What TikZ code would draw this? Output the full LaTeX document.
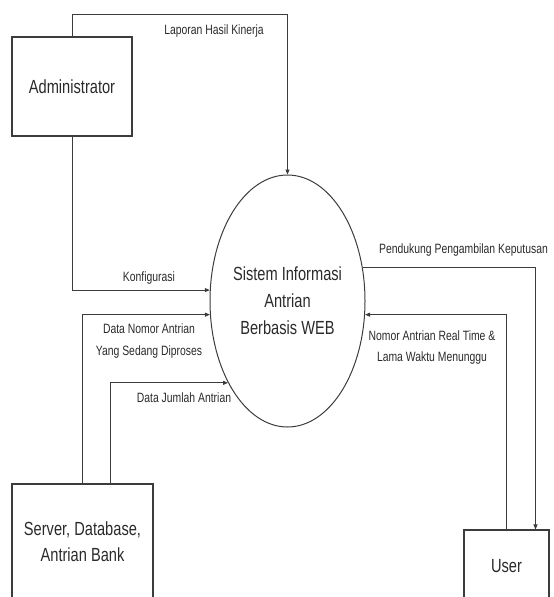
\documentclass[tikz,border=0pt]{standalone}
\usepackage{fontspec}
\setmainfont{Liberation Sans}[FakeStretch=0.77]
\usepackage{xcolor}
\usetikzlibrary{arrows.meta}
\usetikzlibrary{shapes.geometric}
\definecolor{garis}{HTML}{3C3C3C}
\definecolor{teks}{HTML}{2A2A2A}
\tikzstyle{entitas} = [draw=garis, line width=1.1pt, rectangle, inner sep=0pt,
text=teks, align=center, font=\fontsize{19}{26}\selectfont]
\tikzstyle{proses} = [draw=garis, line width=1pt, ellipse, inner sep=0pt,
text=teks, align=center, font=\fontsize{19}{27}\selectfont]
\tikzstyle{aliran} = [draw=garis, line width=0.9pt, -{Triangle[length=5pt,width=4pt]}]
\tikzstyle{ket} = [text=teks, align=center, inner sep=0pt, font=\fontsize{13.5}{21.5}\selectfont]

\begin{document}
\begin{tikzpicture}[x=1pt, y=-1pt]
        \path[use as bounding box] (0,0) rectangle (554,597);
        \clip (0,0) rectangle (554,597);
        % entitas dan proses
        \node[entitas, minimum width=120pt, minimum height=99pt] (admin) at (72,86.5) {Administrator};
        \node[entitas, minimum width=141pt, minimum height=116pt] (server) at (82.5,542) {Server, Database,\\Antrian Bank};
        \node[entitas, minimum width=85pt, minimum height=72pt] (user) at (506.5,566) {User};
        \node[proses, minimum width=155pt, minimum height=252pt] (sistem) at (287.5,301) {Sistem Informasi\\Antrian\\Berbasis WEB};
        \coordinate (server2) at ([xshift=28pt]server.north);
        \coordinate (user2) at ([xshift=29pt]user.north);
        % aliran data
        \draw[aliran] (admin.north) -- ++(0,-22) -| (sistem.north);
        \draw[aliran] (admin.south) |- (sistem.172);
        \draw[aliran] (server.north) |- (sistem.190);
        \draw[aliran] (server2) |- (sistem.234);
        \draw[aliran] (sistem.24) -| (user2);
        \draw[aliran] (user.north) |- (sistem.-10);
        % keterangan
        \node[ket] (lLaporan) at (214,31) {Laporan Hasil Kinerja};
        \node[ket] (lKonfigurasi) at (149,278) {Konfigurasi};
        \node[ket] (lNomorData) at (149,341) {Data Nomor Antrian\\Yang Sedang Diproses};
        \node[ket] (lJumlah) at (184,398) {Data Jumlah Antrian};
        \node[ket] (lPendukung) at (463.5,250) {Pendukung Pengambilan Keputusan};
        \node[ket] (lNomorRT) at (432,347.5) {Nomor Antrian Real Time \&\\Lama Waktu Menunggu};
    \end{tikzpicture}
\end{document}
